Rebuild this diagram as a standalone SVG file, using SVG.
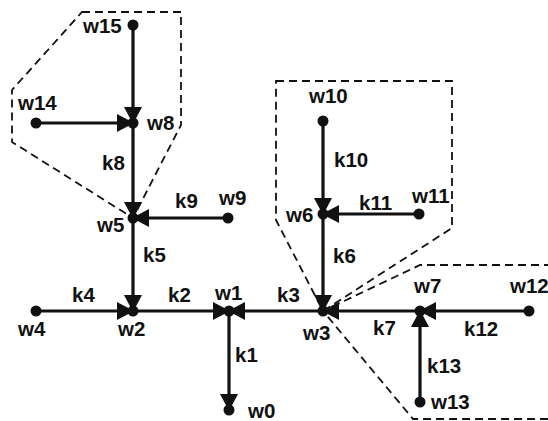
<svg xmlns="http://www.w3.org/2000/svg" width="548" height="421" viewBox="0 0 548 421">
  <style>
    .edge { stroke: #111; stroke-width: 3.2; fill: none; marker-end: url(#head); }
    .zone { stroke: #111; stroke-width: 1.8; fill: none; stroke-dasharray: 8 5; }
    .dot { fill: #111; }
    text { font-family: "Liberation Sans", Arial, sans-serif; font-weight: bold; font-size: 20.5px; fill: #111; }
  </style>
  <defs>
    <marker id="head" markerUnits="userSpaceOnUse" markerWidth="17" markerHeight="18" refX="16" refY="9" orient="auto">
      <path d="M0,0 L17,9 L0,18 z" fill="#111"/>
    </marker>
  </defs>
  <rect width="548" height="421" fill="#fff"/>

  <!-- dashed zones -->
  <g id="zones">
    <polygon class="zone" points="82,12 181,12 181,125 133,218 12,142 12,90"/>
    <polygon class="zone" points="276,81 452,81 452,228 323,311 276,220"/>
    <polyline class="zone" points="552,265 420,265 323,311 413,419 552,419"/>
  </g>

  <!-- connectors -->
  <g id="connectors">
    <line class="edge" x1="133" y1="25" x2="133" y2="123"/>
    <line class="edge" x1="36" y1="123" x2="133" y2="123"/>
    <line class="edge" x1="133" y1="123" x2="133" y2="218"/>
    <line class="edge" x1="228" y1="218" x2="133" y2="218"/>
    <line class="edge" x1="133" y1="218" x2="133" y2="311"/>
    <line class="edge" x1="36" y1="311" x2="133" y2="311"/>
    <line class="edge" x1="133" y1="311" x2="229" y2="311"/>
    <line class="edge" x1="323" y1="311" x2="229" y2="311"/>
    <line class="edge" x1="229" y1="311" x2="229" y2="410"/>
    <line class="edge" x1="323" y1="121" x2="323" y2="214"/>
    <line class="edge" x1="419" y1="214" x2="323" y2="214"/>
    <line class="edge" x1="323" y1="214" x2="323" y2="311"/>
    <line class="edge" x1="420" y1="311" x2="323" y2="311"/>
    <line class="edge" x1="529" y1="311" x2="420" y2="311"/>
    <line class="edge" x1="420" y1="402" x2="420" y2="311"/>
    <text x="102" y="170">k8</text>
    <text x="175" y="208">k9</text>
    <text x="143" y="262">k5</text>
    <text x="72" y="302">k4</text>
    <text x="168" y="302">k2</text>
    <text x="277" y="302">k3</text>
    <text x="235" y="362">k1</text>
    <text x="334" y="167">k10</text>
    <text x="359" y="210">k11</text>
    <text x="333" y="263">k6</text>
    <text x="373" y="335">k7</text>
    <text x="464" y="336">k12</text>
    <text x="427" y="373">k13</text>
  </g>

  <!-- nodes -->
  <g id="w15"><circle class="dot" cx="133" cy="25" r="5.5"/><text x="83" y="33">w15</text></g>
  <g id="w14"><circle class="dot" cx="36" cy="123" r="5.5"/><text x="18" y="110">w14</text></g>
  <g id="w8"><circle class="dot" cx="133" cy="123" r="5.5"/><text x="147" y="130">w8</text></g>
  <g id="w5"><circle class="dot" cx="133" cy="218" r="5.5"/><text x="97" y="232">w5</text></g>
  <g id="w9"><circle class="dot" cx="228" cy="218" r="5.5"/><text x="219" y="205">w9</text></g>
  <g id="w4"><circle class="dot" cx="36" cy="311" r="5.5"/><text x="18" y="336">w4</text></g>
  <g id="w2"><circle class="dot" cx="133" cy="311" r="5.5"/><text x="118" y="336">w2</text></g>
  <g id="w1"><circle class="dot" cx="229" cy="311" r="5.5"/><text x="215" y="300">w1</text></g>
  <g id="w0"><circle class="dot" cx="229" cy="410" r="5.5"/><text x="248" y="418">w0</text></g>
  <g id="w3"><circle class="dot" cx="323" cy="311" r="5.5"/><text x="303" y="340">w3</text></g>
  <g id="w10"><circle class="dot" cx="323" cy="121" r="5.5"/><text x="309" y="103">w10</text></g>
  <g id="w6"><circle class="dot" cx="323" cy="214" r="5.5"/><text x="286" y="222">w6</text></g>
  <g id="w11"><circle class="dot" cx="419" cy="214" r="5.5"/><text x="412" y="203">w11</text></g>
  <g id="w7"><circle class="dot" cx="420" cy="311" r="5.5"/><text x="414" y="293">w7</text></g>
  <g id="w12"><circle class="dot" cx="529" cy="311" r="5.5"/><text x="510" y="293">w12</text></g>
  <g id="w13"><circle class="dot" cx="420" cy="402" r="5.5"/><text x="431" y="409">w13</text></g>
</svg>
